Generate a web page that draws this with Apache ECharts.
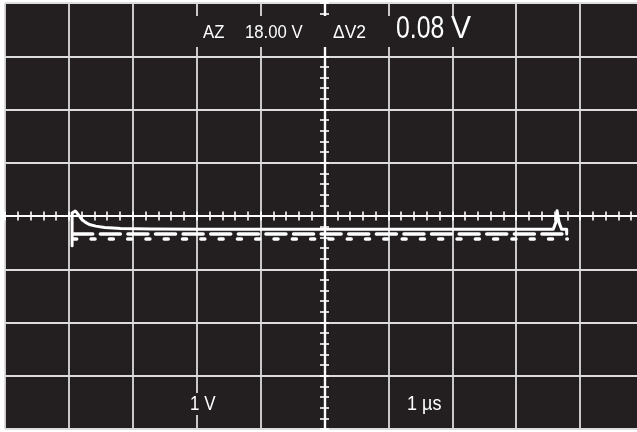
<!DOCTYPE html>
<html>
<head>
<meta charset="utf-8">
<script src="https://cdn.jsdelivr.net/npm/echarts@6/dist/echarts.min.js"></script>
<style>
  html, body { margin: 0; padding: 0; background: #ffffff; }
  #scope { width: 637px; height: 432px; }
</style>
</head>
<body>
<div id="scope"></div>
<script>
// Time relative to the centre graticule line, in µs (1 µs/div); voltage in V (1 V/div)
const traceTime = [-3.95, -3.95, -3.93, -3.90, -3.87, -3.83, -3.79, -3.74, -3.68, -3.58, -3.44, -3.19, -2.72, -1.94,
                   3.58, 3.62, 3.64, 3.655, 3.67, 3.71, 3.79, 3.79];
const traceVolt = [-0.56, 0.056, 0.09, 0.094, 0.056, -0.01, -0.075, -0.12, -0.16, -0.19, -0.215, -0.235, -0.244, -0.25,
                   -0.25, -0.12, 0.10, 0.10, -0.12, -0.25, -0.25, -0.34];
const refUpperTime = [-3.94, 3.80];
const refUpperVolt = [-0.34, -0.34];
const refLowerTime = [-3.94, 3.80];
const refLowerVolt = [-0.43, -0.43];

// Screen readouts
const readoutMode = 'AZ';
const readoutLevel = '18.00 V';
const readoutCursor = 'ΔV2';
const readoutDelta = '0.08';
const readoutDeltaUnit = 'V';
const voltsPerDiv = '1 V';
const timePerDiv = '1 µs';

const BG = '#231f20';
const GRID = '#dcdcdc';
const INK = '#ffffff';
const FONT = '"Liberation Sans", Arial, sans-serif';

const pairs = (xs, ys) => xs.map((x, i) => [x, ys[i]]);

// Graticule axis: the first of each pair carries the grid lines, both carry the
// centre line with its minor ticks (one pointing each way).
function centreAxis(dim, position, withGrid) {
  return {
    type: 'value',
    position: position,
    min: dim === 'x' ? -5 : -4,
    max: dim === 'x' ? 5 : 4,
    interval: 1,
    axisLine: { show: true, onZero: true, onZeroAxisIndex: 0, lineStyle: { color: INK, width: 2.2 } },
    axisTick: { show: true, length: 4.5, lineStyle: { color: INK, width: 1.6 } },
    minorTick: { show: true, splitNumber: 5, length: 4.5, lineStyle: { color: INK, width: 1.6 } },
    axisLabel: { show: false },
    splitLine: { show: withGrid, lineStyle: { color: GRID, width: 1.8 } },
    minorSplitLine: { show: false }
  };
}

const chart = echarts.init(document.getElementById('scope'), null, { renderer: 'canvas' });

const lineBase = { type: 'line', showSymbol: false, symbol: 'none', silent: true, animation: false, xAxisIndex: 0, yAxisIndex: 0 };

chart.setOption({
  backgroundColor: '#ffffff',
  animation: false,
  grid: {
    left: 5, top: 3, width: 639, height: 426,
    containLabel: false, outerBoundsMode: 'none',
    show: true, backgroundColor: BG, borderWidth: 0
  },
  xAxis: [centreAxis('x', 'bottom', true), centreAxis('x', 'top', false)],
  yAxis: [centreAxis('y', 'left', true), centreAxis('y', 'right', false)],
  series: [
    Object.assign({}, lineBase, {
      name: 'ref-lower',
      data: pairs(refLowerTime, refLowerVolt),
      lineStyle: { color: INK, width: 3.5, type: [4, 14.3], cap: 'round' },
      z: 3
    }),
    Object.assign({}, lineBase, {
      name: 'ref-upper',
      data: pairs(refUpperTime, refUpperVolt),
      lineStyle: { color: INK, width: 3.5, type: [20, 7.6], cap: 'round' },
      z: 3
    }),
    Object.assign({}, lineBase, {
      name: 'trace',
      data: pairs(traceTime, traceVolt),
      lineStyle: { color: INK, width: 3, join: 'round', cap: 'round' },
      z: 4
    })
  ],
  graphic: [
    { type: 'rect', shape: { x: 195, y: 16, width: 281, height: 31 }, style: { fill: BG }, z: 100 },
    { type: 'text', x: 203, y: 33, scaleX: 0.88, z: 101,
      style: { text: readoutMode, fill: INK, font: '19px ' + FONT, align: 'left', verticalAlign: 'middle' } },
    { type: 'text', x: 245, y: 33, scaleX: 0.88, z: 101,
      style: { text: readoutLevel, fill: INK, font: '19px ' + FONT, align: 'left', verticalAlign: 'middle' } },
    { type: 'text', x: 333, y: 33, scaleX: 0.92, z: 101,
      style: { text: readoutCursor, fill: INK, font: '19px ' + FONT, align: 'left', verticalAlign: 'middle' } },
    { type: 'text', x: 396, y: 29.5, scaleX: 0.8, z: 101,
      style: { text: readoutDelta, fill: INK, font: '31px ' + FONT, align: 'left', verticalAlign: 'middle' } },
    { type: 'text', x: 451, y: 29.5, scaleX: 0.97, z: 101,
      style: { text: readoutDeltaUnit, fill: INK, font: '31px ' + FONT, align: 'left', verticalAlign: 'middle' } },
    { type: 'rect', shape: { x: 189, y: 393, width: 29, height: 22 }, style: { fill: BG }, z: 100 },
    { type: 'text', x: 190, y: 404, scaleX: 0.85, z: 101,
      style: { text: voltsPerDiv, fill: INK, font: '20px ' + FONT, align: 'left', verticalAlign: 'middle' } },
    { type: 'text', x: 407, y: 404, scaleX: 0.9, z: 101,
      style: { text: timePerDiv, fill: INK, font: '20px ' + FONT, align: 'left', verticalAlign: 'middle' } }
  ]
});
</script>
</body>
</html>
